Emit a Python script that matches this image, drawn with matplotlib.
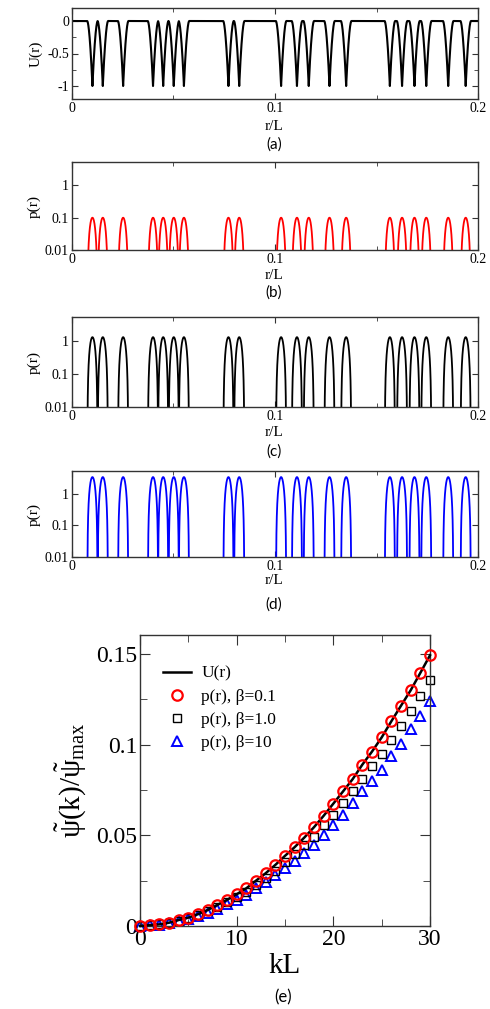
"""
Pozos de potencial U(r), densidades p(r) para tres beta y espectro psi(k)
"""

import numpy as np
import matplotlib.pyplot as plt
from matplotlib.ticker import MultipleLocator, FixedLocator, NullLocator, NullFormatter

plt.rcParams['font.family'] = ['Liberation Serif', 'DejaVu Serif']
plt.rcParams['mathtext.fontset'] = 'custom'
plt.rcParams['mathtext.rm'] = 'Liberation Serif'
plt.rcParams['mathtext.it'] = 'Liberation Serif:italic'

# ---------------------------------------------------------------------------
# Datos
# ---------------------------------------------------------------------------
# centros de los pozos (r/L), leidos del panel (a)
centros = [0.0102, 0.0153, 0.0253, 0.0400, 0.0450, 0.0502, 0.0552,
           0.0771, 0.0824, 0.1030, 0.1108, 0.1166, 0.1268, 0.1350,
           0.1565, 0.1625, 0.1686, 0.1744, 0.1852, 0.1938]
semiancho = 0.0026
profundidad = 1.0

# alturas de los picos de p(r) para cada beta
betas = ['0.1', '1.0', '10']
picos = [0.1, 1.3, 3.4]
colores = ['red', 'black', 'blue']

# panel (e)
kL = list(range(31))
psi_U = [0, 0.0005, 0.0009, 0.0018, 0.0033, 0.0046, 0.0065, 0.0088, 0.0116,
         0.0144, 0.0175, 0.0208, 0.0250, 0.0291, 0.0337, 0.0387, 0.0435,
         0.0488, 0.0545, 0.0608, 0.0675, 0.0742, 0.0810, 0.0890, 0.0962,
         0.1040, 0.1129, 0.1215, 0.1300, 0.1396, 0.1493]
psi_b01 = psi_U
psi_b1 = [0, 0.0005, 0.0009, 0.0017, 0.0030, 0.0042, 0.0059, 0.0080, 0.0105,
          0.0131, 0.0159, 0.0190, 0.0227, 0.0265, 0.0306, 0.0352, 0.0396,
          0.0445, 0.0493, 0.0555, 0.0613, 0.0678, 0.0742, 0.0810, 0.0884,
          0.0949, 0.1028, 0.1105, 0.1188, 0.1267, 0.1355]
psi_b10 = [0, 0.0004, 0.0008, 0.0015, 0.0027, 0.0038, 0.0054, 0.0073, 0.0096,
           0.0120, 0.0145, 0.0172, 0.0207, 0.0241, 0.0279, 0.0320, 0.0360,
           0.0400, 0.0449, 0.0501, 0.0558, 0.0613, 0.0678, 0.0742, 0.0800,
           0.0862, 0.0935, 0.1006, 0.1087, 0.1160, 0.1239]

W, H = 490, 1009
fig = plt.figure(figsize=(W / 100, H / 100), dpi=100)


def ejes(l, t, r, b):
    """Crea ejes a partir de coordenadas en pixeles"""
    return fig.add_axes([l / W, 1 - b / H, (r - l) / W, (b - t) / H])


def estilo(ax, major=4.5, minor=3, size=10):
    for s in ax.spines.values():
        s.set_color('#333333')
        s.set_linewidth(1.0)
    ax.tick_params(which='both', direction='in', top=True, right=True,
                   colors='#333333', labelcolor='black', labelsize=size)
    ax.tick_params(which='major', length=major, pad=2)
    ax.tick_params(which='minor', length=minor)


r = np.linspace(0, 0.2, 12001)
U = np.zeros_like(r)
forma = np.zeros_like(r)
for c in centros:
    d = np.abs(r - c) / semiancho
    dentro = d < 1
    U[dentro] = np.minimum(U[dentro], -profundidad * (1 - d[dentro]) ** 1.8)
    d2 = np.abs(r - c) / 0.0025
    dentro2 = d2 < 1
    forma[dentro2] = np.maximum(forma[dentro2],
                                np.cos(np.pi * d2[dentro2] / 2) ** 2)

xmid = 274

# panel (a)
ax = ejes(71.7, 8, 478.3, 99)
ax.plot(r, U, color='black', lw=1.5)
ax.set_xlim(0, 0.2)
ax.set_ylim(-1.2, 0.2)
ax.xaxis.set_major_locator(FixedLocator([0, 0.1, 0.2]))
ax.xaxis.set_minor_locator(FixedLocator([0.05, 0.15]))
ax.set_xticklabels(['0', '0.1', '0.2'])
ax.yaxis.set_major_locator(FixedLocator([-1, -0.5, 0]))
ax.yaxis.set_minor_locator(FixedLocator([-0.75, -0.25]))
ax.set_yticklabels(['-1', '-0.5', '0'])
ax.set_ylabel('U(r)', fontsize=11, labelpad=3)
estilo(ax)

fig.text(xmid / W, 1 - 127 / H, 'r/L', ha='center', va='center', fontsize=11)
fig.text(xmid / W, 1 - 145 / H, '(a)', ha='center', va='center', fontsize=11,
         family='Lato')

# paneles (b), (c), (d)
cajas = [(162, 250), (317, 407), (471, 557)]
rl_y = [275, 433, 580]
letra_y = [293, 452, 605]
letras = ['(b)', '(c)', '(d)']
for i in range(3):
    t, b = cajas[i]
    ax = ejes(71.7, t, 478.3, b)
    p = picos[i] * forma
    p[p <= 0] = 1e-6
    ax.plot(r, p, color=colores[i], lw=1.3)
    ax.set_yscale('log')
    ax.set_xlim(0, 0.2)
    ax.set_ylim(0.01, 5.3)
    ax.xaxis.set_major_locator(FixedLocator([0, 0.1, 0.2]))
    ax.xaxis.set_minor_locator(FixedLocator([0.05, 0.15]))
    ax.set_xticklabels(['0', '0.1', '0.2'])
    ax.yaxis.set_major_locator(FixedLocator([0.01, 0.1, 1]))
    ax.yaxis.set_minor_locator(NullLocator())
    ax.yaxis.set_minor_formatter(NullFormatter())
    ax.set_yticklabels(['0.01', '0.1', '1'])
    ax.set_ylabel('p(r)', fontsize=11, labelpad=3)
    estilo(ax)
    fig.text(xmid / W, 1 - rl_y[i] / H, 'r/L', ha='center', va='center',
             fontsize=11)
    fig.text(xmid / W, 1 - letra_y[i] / H, letras[i], ha='center',
             va='center', fontsize=11, family='Lato')

# panel (e)
ax = ejes(140, 635, 430, 926)
ax.plot(kL, psi_U, color='black', lw=1.8, label='U(r)', zorder=3)
ax.plot(kL, psi_b01, 'o', mfc='none', mec='red', mew=1.6, ms=7.5,
        label='p(r), β=0.1', zorder=4)
ax.plot(kL, psi_b1, 's', mfc='none', mec='black', mew=1.0, ms=6,
        label='p(r), β=1.0', zorder=2)
ax.plot(kL, psi_b10, '^', mfc='none', mec='blue', mew=1.4, ms=7,
        label='p(r), β=10', zorder=1)
ax.set_xlim(0, 30)
ax.set_ylim(0, 0.1605)
ax.xaxis.set_major_locator(MultipleLocator(10))
ax.xaxis.set_minor_locator(MultipleLocator(5))
ax.yaxis.set_major_locator(FixedLocator([0, 0.05, 0.1, 0.15]))
ax.yaxis.set_minor_locator(FixedLocator([0.025, 0.075, 0.125]))
ax.set_yticklabels(['0', '0.05', '0.1', '0.15'])
estilo(ax, major=7, minor=5, size=17)
for s in ax.spines.values():
    s.set_clip_on(False)
for ln in ax.lines:
    ln.set_clip_on(False)
ax.set_xlabel('kL', fontsize=21, labelpad=2)
ax.set_ylabel(r'$\mathrm{\tilde{\psi}(k)/\tilde{\psi}_{max}}$', fontsize=21,
              labelpad=5)
ax.legend(loc='upper left', bbox_to_anchor=(0.08, 0.895), frameon=False,
          fontsize=12.5, handlelength=1.6, handletextpad=0.6,
          labelspacing=0.4, borderpad=0, borderaxespad=0)

fig.text(283 / W, 1 - 997 / H, '(e)', ha='center', va='center', fontsize=12,
         family='Lato')

fig.savefig('out.png', dpi=100)
